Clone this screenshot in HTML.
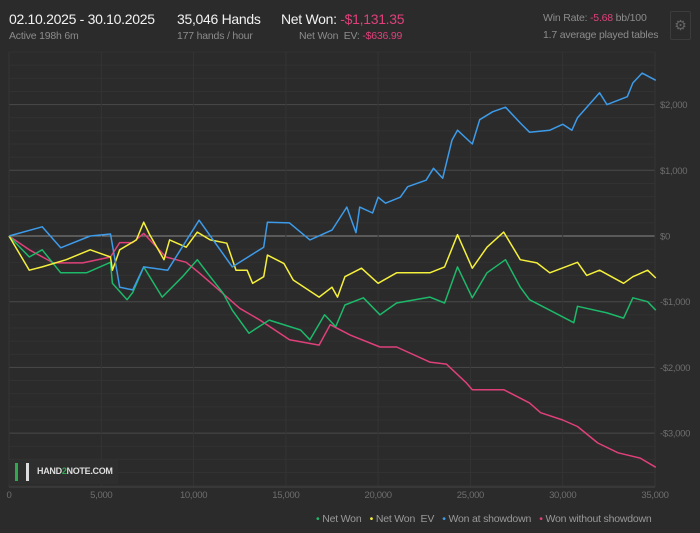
<!DOCTYPE html>
<html><head><meta charset="utf-8"><style>
body{margin:0;background:#2b2b2b;width:700px;height:533px;overflow:hidden;font-family:"Liberation Sans",sans-serif;}
.t{position:absolute;white-space:nowrap;}
.big{font-size:14px;letter-spacing:-0.3px;color:#f2f2f2}
.sm{font-size:10.5px;letter-spacing:-0.2px;color:#8c8c8c}
</style></head><body>
<div class="t big" style="left:9px;top:11px">02.10.2025 - 30.10.2025</div>
<div class="t sm" style="left:9px;top:30px">Active 198h 6m</div>
<div class="t big" style="left:177px;top:11px">35,046 Hands</div>
<div class="t sm" style="left:177px;top:30px">177 hands / hour</div>
<div class="t big" style="left:281px;top:11px">Net Won: <span style="color:#e0407a">-$1,131.35</span></div>
<div class="t sm" style="left:299px;top:30px">Net Won &nbsp;EV: <span style="color:#e0407a">-$636.99</span></div>
<div class="t sm" style="left:543px;top:12px">Win Rate: <span style="color:#e0407a">-5.68</span> bb/100</div>
<div class="t sm" style="left:543px;top:29px">1.7 average played tables</div>
<div class="t" style="left:670px;top:11px;width:19px;height:27px;border:1px solid #3c3c3c;border-radius:2px;color:#666;font-size:14px;text-align:center;line-height:27px">⚙</div>
<svg id="chart" width="700" height="533" style="position:absolute;left:0;top:0"></svg>
<div class="t" style="left:8px;top:460px;width:110px;height:24px;background:#2e2e2e"><span style="position:absolute;left:7px;top:3px;width:14px;height:18px;border-left:3px solid #2fa84f;border-right:3px solid #ddd;box-sizing:border-box"></span><span style="position:absolute;left:29px;top:6px;font-size:9px;font-weight:bold;letter-spacing:-0.3px;color:#ddd">HAND<span style="color:#2fa84f">2</span>NOTE.COM</span></div>
<div class="t" style="left:316px;top:513px;font-size:10.5px;letter-spacing:-0.2px;color:#999">
<span><span style="color:#1db96a">•</span> Net Won</span>&nbsp;&nbsp;
<span><span style="color:#f5f03c">•</span> Net Won &nbsp;EV</span>&nbsp;&nbsp;
<span><span style="color:#3d9be9">•</span> Won at showdown</span>&nbsp;&nbsp;
<span><span style="color:#e0407a">•</span> Won without showdown</span></div>
<script>
const xTicks=[0,5000,10000,15000,20000,25000,30000,35000];
const yTicks=[-3000,-2000,-1000,0,1000,2000];
const yTickLabels=["-$3,000","-$2,000","-$1,000","$0","$1,000","$2,000"];
const blueHands=[0,1800,2800,4400,5500,6000,6700,7300,8600,10300,12100,13800,14000,15200,16300,17500,18300,18800,19000,19700,20000,20400,21200,21600,22600,23000,23500,24000,24300,25100,25500,26200,26900,27700,28200,29300,30000,30500,30800,32000,32400,33500,33800,34300,35046];
const blueVals=[0,140,-180,0,30,-780,-820,-470,-520,240,-470,-170,210,200,-60,90,440,50,440,350,590,500,590,750,850,1030,880,1460,1610,1400,1770,1890,1960,1720,1580,1610,1700,1610,1800,2180,2000,2120,2330,2480,2370];
const yellowHands=[0,1100,1800,3100,4400,5500,5600,6000,6900,7300,7600,8400,8700,9600,10200,10900,11800,12300,12900,13200,13800,14000,14900,15400,16800,17500,17800,18200,19100,20000,21000,22800,23600,24300,25100,25900,26800,27700,28600,29300,30800,31300,32000,33300,33800,34600,35046];
const yellowVals=[0,-520,-470,-360,-210,-320,-520,-210,-60,210,30,-360,-60,-170,60,-60,-110,-520,-520,-720,-620,-290,-420,-670,-930,-780,-930,-620,-490,-720,-560,-560,-470,20,-490,-170,60,-360,-410,-560,-400,-600,-520,-720,-620,-520,-640];
const greenHands=[0,1100,1800,2800,4200,5500,5600,6400,6700,7300,8300,9400,10200,10900,11600,12100,13000,14100,15800,16300,17100,17700,18200,19200,20100,21000,22800,23600,24300,25100,25900,26900,27700,28200,29300,30600,30800,32400,33300,33800,34600,35046];
const greenVals=[0,-320,-210,-560,-560,-400,-720,-970,-860,-470,-930,-620,-360,-620,-870,-1130,-1480,-1280,-1430,-1580,-1200,-1380,-1050,-940,-1200,-1020,-930,-1020,-470,-940,-560,-360,-780,-970,-1130,-1320,-1070,-1170,-1250,-940,-1000,-1130];
const pinkHands=[0,1100,2400,4000,5500,6000,6700,7300,8500,9600,10300,11200,12500,13600,15200,16800,17400,18500,20100,21000,22800,23700,24800,25100,26800,28200,28800,30000,30800,31900,33000,34200,35046];
const pinkVals=[0,-210,-410,-410,-320,-100,-100,40,-320,-400,-560,-780,-1100,-1280,-1580,-1660,-1350,-1510,-1690,-1690,-1920,-1950,-2240,-2340,-2340,-2540,-2690,-2800,-2900,-3150,-3300,-3380,-3520];
const svg=document.getElementById('chart');const NS='http://www.w3.org/2000/svg';
const L=9,R=655,T=52,B=487;
const xs=h=>L+(R-L)*h/35000;
const ys=v=>236-v*0.0657;
function mk(tag,attrs){const e=document.createElementNS(NS,tag);for(const k in attrs)e.setAttribute(k,attrs[k]);svg.appendChild(e);return e;}
for(let v=-3800;v<=2800;v+=200){const y=ys(v);if(y<T||y>B)continue;
 const major=v%1000===0;
 const ln=mk('line',{x1:L,x2:R,y1:y,y2:y,stroke:v===0?'#8a8a8a':(major?'#4a4a4a':'#323232'),'stroke-width':1});
 
 }
for(let h=0;h<=35000;h+=5000){const x=xs(h);
 const ln=mk('line',{x1:x,x2:x,y1:T,y2:B,stroke:'#343434','stroke-width':1});
 
 }
mk('line',{x1:L,x2:R,y1:B,y2:B,stroke:'#444'});
xTicks.forEach(h=>{const t=mk('text',{x:xs(h),y:498,fill:'#6e6e6e','font-size':9.5,'letter-spacing':'-0.3','text-anchor':'middle','font-family':'Liberation Sans'});t.textContent=h.toLocaleString('en-US');
 
 });
yTicks.forEach((v,i)=>{const t=mk('text',{x:660,y:ys(v)+3.5,fill:'#6e6e6e','font-size':9.5,'letter-spacing':'-0.3','font-family':'Liberation Sans'});t.textContent=yTickLabels[i];
 
 });
function series(hs,vs,color,name){const d=hs.map((h,i)=>(i?'L':'M')+xs(h).toFixed(1)+','+ys(vs[i]).toFixed(1)).join('');
 const p=mk('path',{d:d,fill:'none',stroke:color,'stroke-width':1.5,'stroke-linejoin':'round'});
 
 }
series(pinkHands,pinkVals,'#e0407a','line-won-without-showdown');
series(greenHands,greenVals,'#1db96a','line-net-won');
series(yellowHands,yellowVals,'#f5f03c','line-net-won-ev');
series(blueHands,blueVals,'#3d9be9','line-won-at-showdown');
</script>
</body></html>
